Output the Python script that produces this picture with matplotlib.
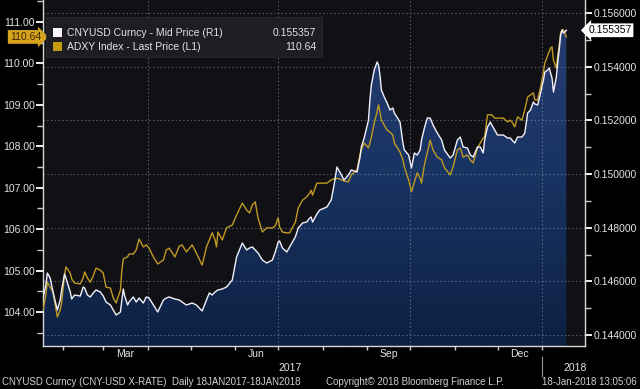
import numpy as np
import pandas as pd
import matplotlib
matplotlib.use('Agg')
import matplotlib.pyplot as plt
import matplotlib.dates as mdates
import matplotlib.transforms as mtransforms
from matplotlib.ticker import MultipleLocator, FuncFormatter, NullFormatter
from matplotlib.colors import LinearSegmentedColormap
from matplotlib.patches import Rectangle

plt.rcParams['font.family'] = ['Liberation Sans', 'DejaVu Sans']

# ---------------- data ----------------
start_date = '2017-01-18'
day_offsets = [0, 2, 3, 5, 7, 10, 12, 13, 15, 16, 19, 20, 22, 26, 28, 29, 31, 33, 35, 37,
               40, 42, 44, 47, 49, 51, 54, 55, 56, 57, 59, 60, 63, 65, 67, 70, 72, 74, 77, 80,
               84, 86, 88, 92, 95, 97, 100, 104, 107, 111, 114, 116, 118, 120, 121, 122, 125, 128, 132, 135,
               139, 142, 144, 146, 148, 150, 153, 156, 160, 162, 164, 165, 167, 170, 172, 176, 178, 181, 184, 186,
               187, 188, 191, 193, 198, 201, 203, 205, 207, 210, 213, 215, 219, 221, 222, 224, 227, 228, 229, 231,
               233, 234, 235, 236, 238, 240, 242, 244, 245, 249, 251, 252, 255, 257, 259, 261, 263, 264, 266, 268,
               270, 272, 275, 278, 280, 284, 286, 289, 291, 293, 296, 298, 300, 303, 305, 307, 308, 310, 312, 313,
               315, 317, 321, 324, 326, 327, 329, 331, 334, 336, 338, 340, 342, 343, 345, 347, 349, 350, 352, 353,
               354, 355, 356, 358, 359, 360, 361, 362, 363, 365]

cnyusd_mid = [0.145379, 0.145864, 0.146311, 0.146125, 0.145603, 0.144932, 0.145305, 0.145678, 0.146274, 0.146125,
              0.145603, 0.145342, 0.145491, 0.145454, 0.145789, 0.145752, 0.145491, 0.145417, 0.145566, 0.145678,
              0.145603, 0.145454, 0.145230, 0.145119, 0.144932, 0.144746, 0.144858, 0.145305, 0.145715, 0.145454,
              0.145119, 0.145230, 0.145417, 0.145230, 0.145379, 0.145193, 0.145417, 0.145379, 0.145119, 0.144858,
              0.145305, 0.145379, 0.145417, 0.145342, 0.145305, 0.145230, 0.145119, 0.145193, 0.145119, 0.144895,
              0.145305, 0.145566, 0.145491, 0.145603, 0.145640, 0.145678, 0.145715, 0.145789, 0.146050, 0.146907,
              0.147429, 0.147168, 0.147243, 0.147280, 0.147168, 0.147056, 0.146796, 0.146684, 0.146796, 0.147094,
              0.147466, 0.147504, 0.147243, 0.147094, 0.147280, 0.147653, 0.147988, 0.148174, 0.148212, 0.148361,
              0.148398, 0.148212, 0.148510, 0.148659, 0.148771, 0.149032, 0.149591, 0.150261, 0.150075, 0.149777,
              0.149963, 0.150150, 0.150075, 0.150597, 0.151007, 0.151342, 0.152013, 0.152758, 0.153317, 0.153876,
              0.154174, 0.154063, 0.153690, 0.153131, 0.152870, 0.152646, 0.152386, 0.152460, 0.152274, 0.151938,
              0.151156, 0.150895, 0.150709, 0.150224, 0.150783, 0.150709, 0.150895, 0.151268, 0.151715, 0.152087,
              0.152087, 0.151827, 0.151528, 0.151268, 0.150895, 0.150597, 0.150709, 0.151268, 0.151379, 0.151007,
              0.150969, 0.150709, 0.150634, 0.151007, 0.151007, 0.150783, 0.151268, 0.151752, 0.151938, 0.151827,
              0.151640, 0.151454, 0.151454, 0.151342, 0.151342, 0.151268, 0.151156, 0.151379, 0.151379, 0.151528,
              0.152274, 0.152386, 0.152684, 0.152609, 0.152572, 0.153019, 0.153504, 0.153802, 0.153876, 0.153951,
              0.153765, 0.153578, 0.153056, 0.153615, 0.154174, 0.154622, 0.155181, 0.155367, 0.155255, 0.155357]

adxy_last = [104.05, 104.41, 104.72, 104.60, 104.48, 103.88, 104.05, 104.22, 104.89, 105.09,
             104.94, 104.80, 104.70, 104.68, 104.82, 104.97, 104.82, 104.72, 104.87, 105.06,
             105.01, 104.94, 104.60, 104.58, 104.34, 104.22, 104.53, 105.01, 105.28, 105.30,
             105.33, 105.40, 105.40, 105.50, 105.76, 105.57, 105.62, 105.54, 105.33, 105.16,
             105.26, 105.50, 105.54, 105.33, 105.59, 105.62, 105.45, 105.62, 105.42, 105.13,
             105.57, 105.74, 105.91, 105.74, 105.57, 105.93, 105.74, 106.03, 106.10, 106.34,
             106.63, 106.46, 106.39, 106.58, 106.66, 106.27, 105.93, 106.03, 106.03, 106.08,
             106.27, 106.05, 105.93, 105.91, 105.91, 106.17, 106.51, 106.70, 106.78, 106.87,
             106.94, 106.82, 107.11, 107.11, 107.11, 107.19, 107.21, 107.23, 107.21, 107.16,
             107.14, 107.31, 107.43, 107.79, 107.91, 108.08, 107.96, 108.08, 108.22, 108.56,
             108.83, 109.00, 108.83, 108.63, 108.51, 108.39, 108.34, 108.27, 108.08, 107.86,
             107.67, 107.50, 107.19, 106.90, 107.14, 107.36, 107.23, 107.11, 107.55, 107.84,
             108.15, 107.91, 107.74, 107.67, 107.48, 107.31, 107.50, 107.91, 107.96, 107.74,
             107.79, 107.67, 107.60, 107.96, 108.08, 108.20, 108.22, 108.76, 108.76, 108.76,
             108.68, 108.68, 108.68, 108.59, 108.63, 108.59, 108.47, 108.71, 108.63, 108.88,
             109.19, 109.24, 109.29, 109.12, 109.12, 109.43, 109.79, 110.01, 110.20, 110.28,
             110.37, 110.40, 110.08, 109.89, 110.20, 110.44, 110.73, 110.81, 110.81, 110.64]

cny_label = 'CNYUSD Curncy - Mid Price (R1)'
adxy_label = 'ADXY Index - Last Price (L1)'
month_labels = ['Mar', 'Jun', 'Sep', 'Dec']
month_label_dates = ['2017-03-16', '2017-06-16', '2017-09-16', '2017-12-16']
year_labels = ['2017', '2018']
year_label_dates = ['2017-07-09', '2018-01-24']

dates = pd.Timestamp(start_date) + pd.to_timedelta(day_offsets, unit='D')
x_min, x_max = pd.Timestamp('2017-01-18'), pd.Timestamp('2018-01-31')
r_lo, r_hi = 0.143591, 0.156485
l_lo, l_hi = 103.18, 111.531

# ---------------- figure ----------------
W, H = 640, 389
fig = plt.figure(figsize=(6.4, 3.89), dpi=100, facecolor='black')
rect = [43 / W, (H - 346) / H, 542 / W, 346 / H]
ax = fig.add_axes(rect)
ax.set_facecolor('#101015')
axL = ax.twinx()
axW = ax.twinx()

white_col = '#f2f0f8'
gold_col = '#c09a22'
txt_col = '#e4e4e4'
fs = 7.5

# gradient area under CNYUSD
poly = ax.fill_between(dates, cnyusd_mid, r_lo, color='none', lw=0)
xnum = mdates.date2num(dates)
cmap = LinearSegmentedColormap.from_list('g', ['#0e2042', '#183463', '#283d72'])
grad = np.linspace(0, 1, 256).reshape(-1, 1)
im = ax.imshow(grad, aspect='auto', cmap=cmap, origin='lower',
               extent=[xnum[0], xnum[-1], r_lo, r_hi], zorder=1, interpolation='bilinear')
im.set_clip_path(poly.get_paths()[0], transform=ax.transData)

ax.set_xlim(x_min, x_max)
ax.set_ylim(r_lo, r_hi)

# right axis (CNY)
ax.yaxis.tick_right()
ax.yaxis.set_label_position('right')
ax.yaxis.set_major_locator(MultipleLocator(0.002))
ax.yaxis.set_minor_locator(MultipleLocator(0.001))
ax.yaxis.set_major_formatter(FuncFormatter(lambda v, p: f'{v:.6f}'))
ax.tick_params(axis='y', which='major', direction='out', length=5, width=1.3, colors='white',
               labelcolor=txt_col, labelsize=fs, pad=1, left=False, labelleft=False,
               right=True, labelright=True)
ax.tick_params(axis='y', which='minor', direction='out', length=4, width=1.0, colors='#cccccc',
               left=False, right=True)

# x axis
ax.xaxis.set_major_locator(mdates.MonthLocator(bymonth=[1, 4, 7, 10]))
ax.xaxis.set_minor_locator(mdates.MonthLocator())
ax.xaxis.set_major_formatter(NullFormatter())
ax.tick_params(axis='x', which='both', direction='out', length=3, width=1.0, colors='#cccccc')

# grid
ax.set_axisbelow('line')
ax.grid(True, which='major', axis='both', color='#8e9bb0', alpha=0.6, linestyle=(0, (1.2, 2.2)), lw=0.8)

ax.spines['top'].set_visible(False)
for s in ['left', 'right', 'bottom']:
    ax.spines[s].set_color('#d8d8d8')
    ax.spines[s].set_linewidth(1.0)

# left axis (ADXY)
axL.set_ylim(l_lo, l_hi)
axL.plot(dates, adxy_last, color=gold_col, lw=1.0, zorder=3)
axL.yaxis.tick_left()
axL.yaxis.set_major_locator(MultipleLocator(1.0))
axL.yaxis.set_minor_locator(MultipleLocator(0.5))
axL.yaxis.set_major_formatter(FuncFormatter(lambda v, p: f'{v:.2f}'))
axL.tick_params(axis='y', which='major', direction='out', length=5, width=1.3, colors='white',
                labelcolor=txt_col, labelsize=fs, pad=1, right=False, labelright=False,
                left=True, labelleft=True)
axL.tick_params(axis='y', which='minor', direction='out', length=4, width=1.0, colors='#cccccc',
                right=False, left=True)
for s in axL.spines.values():
    s.set_visible(False)

# white CNY line on top
axW.set_ylim(r_lo, r_hi)
axW.plot(dates, cnyusd_mid, color=white_col, lw=1.0, zorder=3)
axW.yaxis.set_visible(False)
for s in axW.spines.values():
    s.set_visible(False)
for a in (axL, axW):
    a.set_xlim(x_min, x_max)

# month / year labels
tr = mtransforms.blended_transform_factory(ax.transData, fig.transFigure)
for lab, d in zip(month_labels, month_label_dates):
    ax.text(pd.Timestamp(d), (H - 354) / H, lab, transform=tr, ha='center', va='center',
            color=txt_col, fontsize=fs, clip_on=False)
for lab, d in zip(year_labels, year_label_dates):
    ax.text(pd.Timestamp(d), (H - 368) / H, lab, transform=tr, ha='center', va='center',
            color=txt_col, fontsize=fs, clip_on=False)
sep = plt.Line2D([mdates.date2num(pd.Timestamp('2018-01-01'))] * 2, [(H - 357) / H, (H - 376) / H],
                 transform=tr, color='#9a9a9a', lw=0.8)
sep.set_figure(fig)
fig.lines.append(sep)

# legend box
fig.patches.append(Rectangle((46 / W, (H - 57) / H), (322 - 46) / W, 40 / H, transform=fig.transFigure,
                             facecolor='#1d1d22', edgecolor='#2a2a30', lw=0.6, figure=fig, zorder=5))
fig.patches.append(Rectangle((53 / W, (H - 37) / H), 9 / W, 9 / H, transform=fig.transFigure,
                             facecolor='#fbf4fb', edgecolor='none', figure=fig, zorder=6))
fig.patches.append(Rectangle((53 / W, (H - 51) / H), 9 / W, 9 / H, transform=fig.transFigure,
                             facecolor='#c49a10', edgecolor='none', figure=fig, zorder=6))
fig.text(67 / W, (H - 33) / H, cny_label, color=txt_col, fontsize=fs, va='center', ha='left', zorder=7)
fig.text(67 / W, (H - 47) / H, adxy_label, color=txt_col, fontsize=fs, va='center', ha='left', zorder=7)
fig.text(316 / W, (H - 33) / H, f'{cnyusd_mid[-1]:.6f}', color=txt_col, fontsize=fs, va='center', ha='right', zorder=7)
fig.text(316 / W, (H - 47) / H, f'{adxy_last[-1]:.2f}', color=txt_col, fontsize=fs, va='center', ha='right', zorder=7)

# last value tags
trL = mtransforms.blended_transform_factory(axL.transAxes, axL.transData)
axL.text(-0.004, adxy_last[-1], f'{adxy_last[-1]:.2f}', transform=trL, ha='right', va='center',
         fontsize=fs, color='#3a2600', clip_on=False, zorder=10,
         bbox=dict(boxstyle='rarrow,pad=0.18', fc='#d6a31e', ec='none'))
trR = mtransforms.blended_transform_factory(ax.transAxes, ax.transData)
ax.text(1.006, cnyusd_mid[-1], f'{cnyusd_mid[-1]:.6f}', transform=trR, ha='left', va='center',
        fontsize=fs, color='#000000', clip_on=False, zorder=10,
        bbox=dict(boxstyle='larrow,pad=0.18', fc='#ffffff', ec='none'))

# footer
fy = (H - 382) / H
fig.text(2 / W, fy, 'CNYUSD Curncy (CNY-USD X-RATE)  Daily 18JAN2017-18JAN2018', color='#d0d0d0',
         fontsize=7, va='center', ha='left')
fig.text(326 / W, fy, 'Copyright\u00a9 2018 Bloomberg Finance L.P.', color='#d0d0d0',
         fontsize=7, va='center', ha='left')
fig.text(637 / W, fy, '18-Jan-2018 13:05:06', color='#d0d0d0', fontsize=7, va='center', ha='right')

fig.savefig('out.png', dpi=100, facecolor='black')
